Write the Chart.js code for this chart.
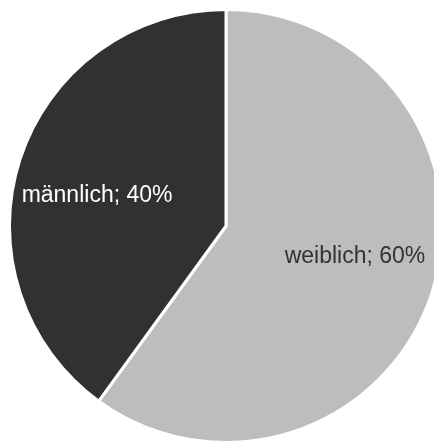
<!DOCTYPE html>
<html>
<head>
<meta charset="utf-8">
<script src="https://cdn.jsdelivr.net/npm/chart.js@4"></script>
<style>
  html, body { margin: 0; padding: 0; background: #fff; overflow: hidden; }
  body { width: 434px; height: 441px; position: relative; }
  #wrap { position: absolute; left: 8px; top: 8px; width: 436px; height: 436px; }
</style>
</head>
<body>
<div id="wrap"><canvas id="chartGeschlecht" width="436" height="436"></canvas></div>
<script>
// Daten
const kategorien = ['weiblich', 'männlich'];
const anteile = [60, 40];
const farben = ['#bdbdbd', '#303131'];
const textFarben = ['#333333', '#ffffff'];

/**
 * Beschriftung "Name; xx%" in jedes Segment
 */
const segmentLabels = {
  id: 'segmentLabels',
  afterDatasetsDraw(chart) {
    const ctx = chart.ctx;
    const meta = chart.getDatasetMeta(0);
    const total = anteile.reduce((a, b) => a + b, 0);
    ctx.save();
    ctx.font = '23px "Liberation Sans", Arial, sans-serif';
    ctx.textAlign = 'center';
    ctx.textBaseline = 'middle';
    meta.data.forEach((arc, i) => {
      const p = arc.getProps(['x', 'y', 'startAngle', 'endAngle', 'outerRadius']);
      // etwas gegen den Uhrzeigersinn verschoben, wie im Original
      const mid = (p.startAngle + p.endAngle) / 2 - 0.082;
      const r = p.outerRadius * 0.612;
      const x = p.x + Math.cos(mid) * r;
      const y = p.y + Math.sin(mid) * r;
      const pct = Math.round(anteile[i] / total * 100);
      ctx.fillStyle = textFarben[i];
      ctx.fillText(kategorien[i] + '; ' + pct + '%', x, y);
    });
    ctx.restore();
  }
};

new Chart(document.getElementById('chartGeschlecht'), {
  type: 'pie',
  data: {
    labels: kategorien,
    datasets: [{
      data: anteile,
      backgroundColor: farben,
      borderColor: '#ffffff',
      borderWidth: 3
    }]
  },
  options: {
    responsive: false,
    animation: false,
    layout: { padding: 0 },
    plugins: {
      legend: { display: false },
      tooltip: { enabled: false }
    }
  },
  plugins: [segmentLabels]
});
</script>
</body>
</html>
